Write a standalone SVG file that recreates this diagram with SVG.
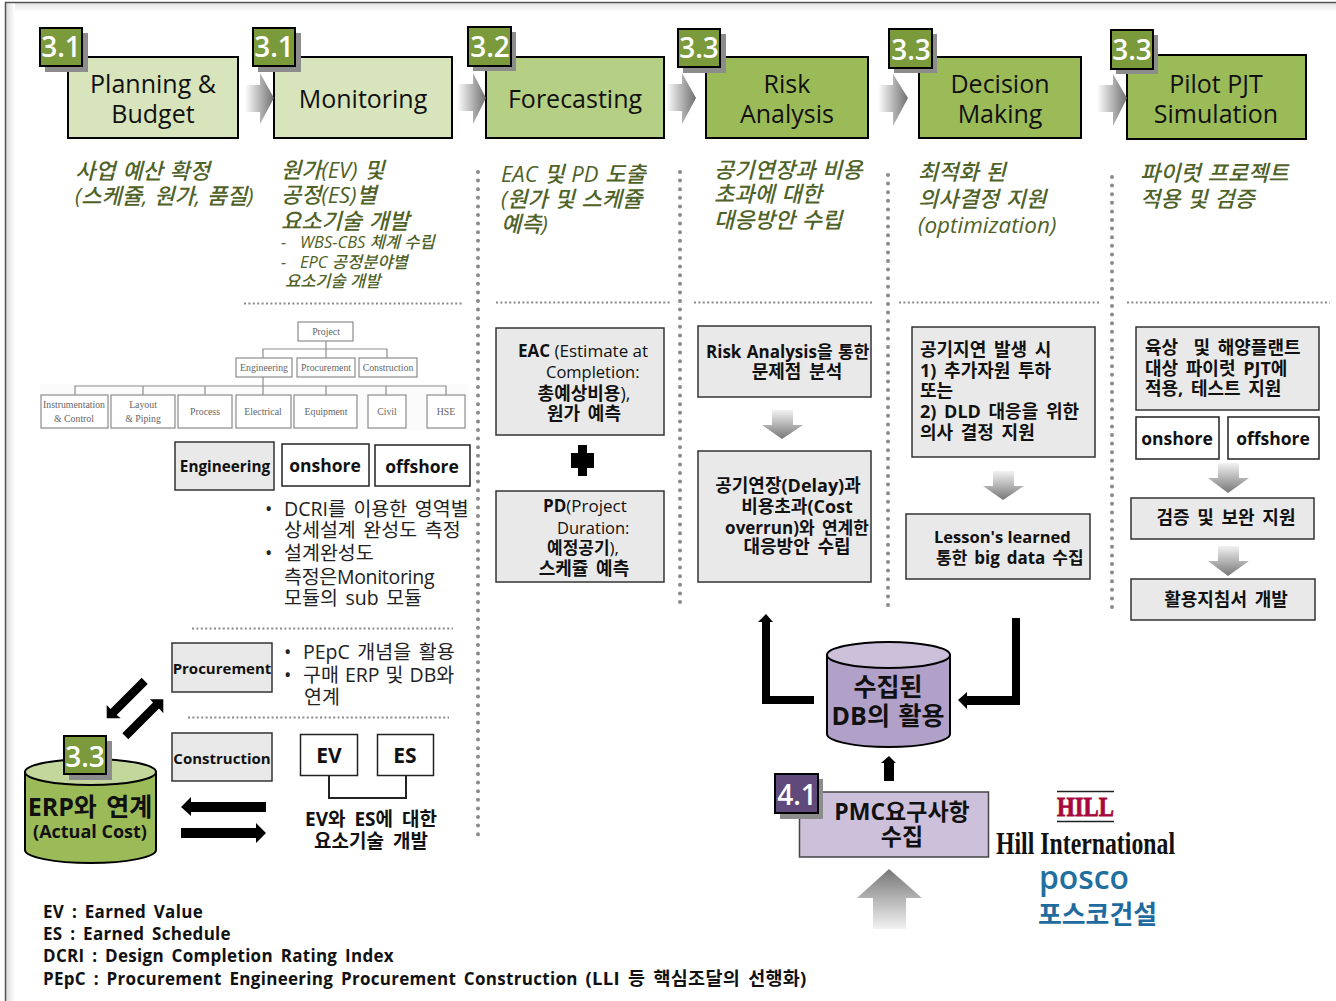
<svg xmlns="http://www.w3.org/2000/svg" width="1336" height="1001" viewBox="0 0 1336 1001">
<style>
text{font-family:"Open Sans","Noto Sans CJK KR",sans-serif;fill:#111}
.ttl{font-size:25px;text-anchor:middle}
.bdg{font-size:28px;font-weight:600;fill:#fff;text-anchor:middle}
.it{font-size:22px;font-style:italic;font-weight:500;fill:#4f6228;word-spacing:1px}
.its{font-size:16.5px;font-style:italic;font-weight:500;fill:#4f6228}
.b{font-weight:700;font-size:17px}
.k{font-weight:700;font-size:18px;word-spacing:3px;white-space:pre}
.sw{word-spacing:2.5px}
.m{text-anchor:middle}
.r{font-size:19.5px;font-weight:400;fill:#222;word-spacing:2.5px}
.n{font-size:16.5px}
.h{font-weight:700;font-size:17.5px}
.lg{font-weight:700;font-size:17px;letter-spacing:.3px;word-spacing:3px}
.st{stroke:#000;stroke-width:2}
.l1{fill:#d8e4bc}.l2{fill:#b5cf84}.l3{fill:#9bbb59}
.sh{fill:#8c8c8c}
.bg{fill:#7a9a3c;stroke:#000;stroke-width:2}
.g{fill:#e9e9e9;stroke:#333;stroke-width:1.5}
.w{fill:#fff;stroke:#222;stroke-width:1.5}
.vd{stroke:#8a8a8a;stroke-width:4;stroke-linecap:round;stroke-dasharray:0 8.6;fill:none}
.hd{stroke:#8a8a8a;stroke-width:2;stroke-dasharray:2 2.4;fill:none}
.wb{fill:#fff;stroke:#8d8d8d;stroke-width:1.2}
.wl{stroke:#8d8d8d;stroke-width:1.2;fill:none}
.wt{font-family:"Liberation Serif",serif;font-size:9.8px;fill:#666;text-anchor:middle}
</style>
<defs>
<linearGradient id="gh" x1="0" x2="1" y1="0" y2="0"><stop offset="0" stop-color="#fff"/><stop offset="1" stop-color="#6f6f6f"/></linearGradient>
<linearGradient id="gv" x1="0" x2="0" y1="0" y2="1"><stop offset="0" stop-color="#f2f2f2"/><stop offset="1" stop-color="#777"/></linearGradient>
<linearGradient id="gu" x1="0" x2="0" y1="0" y2="1"><stop offset="0" stop-color="#777"/><stop offset="1" stop-color="#f2f2f2"/></linearGradient>
<linearGradient id="fl" x1="0" x2="1" y1="0" y2="0"><stop offset="0" stop-color="#dcdcdc"/><stop offset="1" stop-color="#fff"/></linearGradient>
<linearGradient id="ft" x1="0" x2="0" y1="0" y2="1"><stop offset="0" stop-color="#e4e4e4"/><stop offset="1" stop-color="#fff"/></linearGradient>
</defs>
<rect width="1336" height="1001" fill="#fff"/>
<g id="frame">
<rect x="6" y="3" width="1330" height="9" fill="url(#ft)"/>
<rect x="6" y="3" width="9" height="998" fill="url(#fl)"/>
<path d="M5.5 1001V2.5H1336" fill="none" stroke="#555" stroke-width="1.5"/>
</g>
<g id="dividers">
<path class="vd" d="M478 172V838M680 172V606M888 175V612M1112 177V608"/>
<path class="hd" d="M244 303.500H462M496 302.500H670M694 302.500H874M899 302.500H1100M1127 302.500H1330M192 628.500H453M188 717.500H449"/>
</g>

<g id="step-planning"><rect class="l1 st" x="68" y="57" width="170" height="81"/><rect class="sh" x="45" y="33" width="43" height="39"/><rect class="bg" x="40" y="28" width="42" height="38"/><text class="bdg" x="61" y="57">3.1</text><text class="ttl" x="153" y="93">Planning &amp;</text><text class="ttl" x="153" y="123">Budget</text></g>
<g id="step-monitoring"><rect class="l1 st" x="274" y="57" width="178" height="81"/><rect class="sh" x="258" y="33" width="43" height="39"/><rect class="bg" x="253" y="28" width="42" height="38"/><text class="bdg" x="274" y="57">3.1</text><text class="ttl" x="363" y="108">Monitoring</text></g>
<g id="step-forecasting"><rect class="l2 st" x="486" y="57" width="178" height="81"/><rect class="sh" x="473" y="32" width="43" height="39"/><rect class="bg" x="468" y="27" width="43" height="39"/><text class="bdg" x="490" y="57">3.2</text><text class="ttl" x="575" y="108">Forecasting</text></g>
<g id="step-risk"><rect class="l3 st" x="706" y="57" width="162" height="81"/><rect class="sh" x="683" y="34" width="43" height="39"/><rect class="bg" x="678" y="29" width="42" height="38"/><text class="bdg" x="699" y="58">3.3</text><text class="ttl" x="787" y="93">Risk</text><text class="ttl" x="787" y="123">Analysis</text></g>
<g id="step-decision"><rect class="l3 st" x="919" y="57" width="162" height="81"/><rect class="sh" x="894" y="34" width="43" height="39"/><rect class="bg" x="889" y="29" width="43" height="39"/><text class="bdg" x="911" y="60">3.3</text><text class="ttl" x="1000" y="93">Decision</text><text class="ttl" x="1000" y="123">Making</text></g>
<g id="step-pilot"><rect class="l3 st" x="1127" y="55" width="179" height="84"/><rect class="sh" x="1116" y="35" width="42" height="39"/><rect class="bg" x="1111" y="30" width="42" height="39"/><text class="bdg" x="1132" y="60">3.3</text><text class="ttl" x="1216" y="93">Pilot PJT</text><text class="ttl" x="1216" y="123">Simulation</text></g>

<g id="desc-planning"><text class="it" x="75" y="179">사업 예산 확정</text><text class="it" x="75" y="204">(스케쥴, 원가, 품질)</text></g>
<g id="desc-monitoring"><text class="it" x="281" y="178">원가(EV) 및</text><text class="it" x="281" y="203">공정(ES)별</text><text class="it" x="281" y="229">요소기술 개발</text><text class="its" x="281" y="248">-</text><text class="its" x="300" y="248">WBS-CBS 체계 수립</text><text class="its" x="281" y="268">-</text><text class="its" x="300" y="268">EPC 공정분야별</text><text class="its" x="285" y="287">요소기술 개발</text></g>
<g id="desc-forecasting"><text class="it" x="501" y="182">EAC 및 PD 도출</text><text class="it" x="501" y="207">(원가 및 스케쥴</text><text class="it" x="501" y="232">예측)</text></g>
<g id="desc-risk"><text class="it" x="714" y="178">공기연장과 비용</text><text class="it" x="714" y="202">초과에 대한</text><text class="it" x="714" y="228">대응방안 수립</text></g>
<g id="desc-decision"><text class="it" x="918" y="180">최적화 된</text><text class="it" x="918" y="207">의사결정 지원</text><text class="it" x="918" y="233" style="font-size:22.5px">(optimization)</text></g>
<g id="desc-pilot"><text class="it" x="1140" y="181">파이럿 프로젝트</text><text class="it" x="1140" y="207">적용 및 검증</text></g>

<g id="wbs-chart">
<rect x="40" y="384" width="428" height="46" fill="#fbfbfb"/>
<path class="wl" d="M326 341V358M263 358V349H387V358M263 377V395M75 395V386H446V395M143 386V395M205 386V395M326 386V395M386 386V395"/>
<rect class="wb" x="298" y="322" width="55" height="19"/><text class="wt" x="326" y="335">Project</text>
<rect class="wb" x="236" y="358" width="56" height="19"/><text class="wt" x="264" y="371">Engineering</text>
<rect class="wb" x="297" y="358" width="58" height="19"/><text class="wt" x="326" y="371">Procurement</text>
<rect class="wb" x="359" y="358" width="58" height="19"/><text class="wt" x="388" y="371">Construction</text>
<rect class="wb" x="41" y="395" width="67" height="33"/><text class="wt" x="74" y="408">Instrumentation</text><text class="wt" x="74" y="422">&amp; Control</text>
<rect class="wb" x="111" y="395" width="64" height="33"/><text class="wt" x="143" y="408">Layout</text><text class="wt" x="143" y="422">&amp; Piping</text>
<rect class="wb" x="178" y="395" width="54" height="33"/><text class="wt" x="205" y="415">Process</text>
<rect class="wb" x="236" y="395" width="55" height="33"/><text class="wt" x="263" y="415">Electrical</text>
<rect class="wb" x="294" y="395" width="63" height="33"/><text class="wt" x="326" y="415">Equipment</text>
<rect class="wb" x="368" y="395" width="38" height="33"/><text class="wt" x="387" y="415">Civil</text>
<rect class="wb" x="427" y="395" width="38" height="33"/><text class="wt" x="446" y="415">HSE</text>
</g>

<g id="engineering"><rect class="g" x="175" y="442" width="99" height="48"/><text class="m" x="225" y="472" style="font-size:15.3px;font-weight:700">Engineering</text></g>
<g id="eng-onshore"><rect class="w" x="282" y="444" width="87" height="42"/><text class="h m" x="325" y="472">onshore</text></g>
<g id="eng-offshore"><rect class="w" x="375" y="445" width="95" height="41"/><text class="h m" x="422" y="473">offshore</text></g>
<g id="eng-notes">
<text class="r" x="265" y="516">•</text><text class="r" x="284" y="516">DCRI를 이용한 영역별</text>
<text class="r" x="284" y="537">상세설계 완성도 측정</text>
<text class="r" x="265" y="560">•</text><text class="r" x="284" y="560">설계완성도</text>
<text class="r" x="284" y="584" style="letter-spacing:-.3px">측정은Monitoring</text>
<text class="r" x="284" y="605">모듈의 sub 모듈</text>
</g>

<g id="procurement"><rect class="g" x="172" y="643" width="100" height="49"/><text class="m" x="222" y="674" style="font-size:15px;font-weight:700">Procurement</text></g>
<g id="proc-notes">
<text class="r" x="284" y="659">•</text><text class="r" x="303" y="659">PEpC 개념을 활용</text>
<text class="r" x="284" y="682">•</text><text class="r" x="303" y="682" style="word-spacing:1px">구매 ERP 및 DB와</text>
<text class="r" x="304" y="704">연계</text>
</g>
<g id="construction"><rect class="g" x="172" y="733" width="100" height="48"/><text class="m" x="222" y="764" style="font-size:15px;font-weight:700">Construction</text></g>
<g id="ev"><rect class="w" x="300.500" y="734.500" width="57" height="41"/><text class="m" x="329" y="763" style="font-size:21px;font-weight:700">EV</text></g>
<g id="es"><rect class="w" x="377.500" y="734.500" width="56" height="41"/><text class="m" x="405" y="763" style="font-size:21px;font-weight:700">ES</text></g>
<g id="ev-es-label"><text class="m" x="371" y="826" style="font-size:19px;font-weight:700;word-spacing:4px">EV와 ES에 대한</text><text class="m" x="371" y="848" style="font-size:19px;font-weight:700;word-spacing:4px">요소기술 개발</text></g>

<g id="erp-db">
<path d="M25 772V850C25 857 54 863 90.500 863S156 857 156 850V772Z" fill="#9bbb59" stroke="#000" stroke-width="2"/>
<ellipse cx="90.500" cy="772" rx="65.500" ry="13" fill="#c3d69b" stroke="#000" stroke-width="2"/>
<rect class="sh" x="69" y="741" width="43" height="39"/><rect class="bg" x="64" y="736" width="42" height="38"/><text class="bdg" x="85" y="767">3.3</text>
<text class="m" x="90" y="816" style="font-size:25px;font-weight:700;word-spacing:3px">ERP와 연계</text><text class="m" x="90" y="838" style="font-size:18px;font-weight:700">(Actual Cost)</text>
</g>

<g id="db">
<path d="M827 655V734C827 741 854 747 888.500 747S950 741 950 734V655Z" fill="#b1a0c7" stroke="#000" stroke-width="2"/>
<ellipse cx="888.500" cy="655" rx="61.500" ry="13" fill="#ccc0da" stroke="#000" stroke-width="2"/>
<text class="m" x="888" y="696" style="font-size:25px;font-weight:700">수집된</text><text class="m" x="888" y="725" style="font-size:25px;font-weight:700;word-spacing:2px">DB의 활용</text>
</g>

<g id="pmc">
<rect x="799.500" y="792" width="189" height="65" fill="#ccc0da" stroke="#444" stroke-width="1.500"/>
<rect class="sh" x="780" y="779" width="43" height="40"/><rect x="775" y="774" width="43" height="39" fill="#604a7b" stroke="#000" stroke-width="2"/><text class="bdg" x="797" y="805">4.1</text>
<text class="m" x="902" y="820" style="font-size:23px;font-weight:700">PMC요구사항</text><text class="m" x="902" y="845" style="font-size:23px;font-weight:700">수집</text>
</g>

<g id="eac"><rect class="g" x="496" y="328" width="168" height="107"/>
<text x="518" y="357" class="b">EAC <tspan font-weight="400">(Estimate at</tspan></text><text x="546" y="378" class="n">Completion:</text><text class="m" x="584" y="400" style="font-size:18px"><tspan font-weight="700">총예상비용</tspan>),</text><text class="k m" x="584" y="420">원가 예측</text></g>
<g id="pd"><rect class="g" x="496" y="491" width="168" height="91"/>
<text x="543" y="512" class="b">PD<tspan font-weight="400">(Project</tspan></text><text x="557" y="534" class="n">Duration:</text><text class="m" x="583" y="554" style="font-size:17px"><tspan font-weight="700">예정공기</tspan>),</text><text class="k m" x="584" y="575">스케쥴 예측</text></g>

<g id="risk-1"><rect class="g" x="698" y="326" width="173" height="71"/><text class="b" x="706" y="358" style="word-spacing:1px">Risk Analysis을 통한</text><text class="k m" x="797" y="378">문제점 분석</text></g>
<g id="risk-2"><rect class="g" x="698" y="451" width="173" height="131"/><text class="k m" x="788" y="492">공기연장(Delay)과</text><text class="k m" x="797" y="513">비용초과(Cost</text><text class="b m" x="797" y="534" style="word-spacing:3px">overrun)와 연계한</text><text class="k m" x="797" y="553">대응방안 수립</text></g>

<g id="decision-1"><rect class="g" x="912" y="327" width="183" height="130"/><text class="k" x="920" y="356">공기지연 발생 시</text><text class="k" x="920" y="377">1) 추가자원 투하</text><text class="k" x="920" y="397">또는</text><text class="k" x="920" y="418">2) DLD 대응을 위한</text><text class="k" x="920" y="439">의사 결정 지원</text></g>
<g id="decision-2"><rect class="g" x="906" y="514" width="184" height="65"/><text class="b" x="934" y="543" style="font-size:16.5px">Lesson's learned</text><text class="b sw" x="936" y="564">통한 big data 수집</text></g>

<g id="pilot-1"><rect class="g" x="1136" y="327" width="183" height="83"/><text class="k" x="1145" y="354">육상  및 해양플랜트</text><text class="k" x="1145" y="375">대상 파이럿 PJT에</text><text class="k" x="1145" y="395">적용, 테스트 지원</text></g>
<g id="pilot-onshore"><rect class="w" x="1136" y="417" width="83" height="42"/><text class="h m" x="1177" y="445">onshore</text></g>
<g id="pilot-offshore"><rect class="w" x="1228" y="417" width="91" height="42"/><text class="h m" x="1273" y="445">offshore</text></g>
<g id="pilot-2"><rect class="g" x="1131" y="498" width="183" height="41"/><text class="k m" x="1226" y="524">검증 및 보완 지원</text></g>
<g id="pilot-3"><rect class="g" x="1131" y="579" width="184" height="41"/><text class="k m" x="1226" y="606">활용지침서 개발</text></g>

<g id="connectors">
<g fill="url(#gh)">
<path d="M245 85H260V73L274 98L260 124V112H245Z"/>
<path d="M457 84H473V73L486 98L473 124V111H457Z"/>
<path d="M666 84H682V73L696 98L682 124V111H666Z"/>
<path d="M878 85H893V74L908 98L893 126V112H878Z"/>
<path d="M1097 85H1113V74L1127 98L1113 126V112H1097Z"/>
</g>
<g fill="url(#gv)">
<path d="M772 410H793V425H803L782 439L762 425H772Z"/>
<path d="M993 471H1014V486H1024L1003 500L983 486H993Z"/>
<path d="M1218 463H1239V478H1249L1228 493L1208 478H1218Z"/>
<path d="M1218 546H1239V561H1249L1228 576L1208 561H1218Z"/>
</g>
<path d="M873 929V898H857L889 869L922 898H906V929Z" fill="url(#gu)"/>
<g fill="#000">
<path d="M578 445H587V453H594V468H587V476H578V468H571V453H578Z"/>
<path d="M141.700 677.700L110.500 708.900L106.700 705V718.300H120.700L116.700 715L147.700 684Z"/>
<path d="M122.300 733.300L153 702.600L150 699.300H163.300V713.300L159 708.600L128.300 739.300Z"/>
<path d="M181 807L191 797V802H266V812H191V816Z"/>
<path d="M181 828H256V823L266 833L256 843V838H181Z"/>
<path d="M762 704V622H758L766 614L773 622H770V696H814V704Z"/>
<path d="M1012 618H1020V705H967V709L958 700L967 692V696H1012Z"/>
<path d="M884 781V763H881L889 756L896 763H894V781Z"/>
</g>
<path d="M329 776V798H406V776" fill="none" stroke="#222" stroke-width="2"/>
</g>

<g id="logos">
<path d="M1057 791.500H1114M1057 821.500H1114" stroke="#222" stroke-width="1.500"/>
<text x="1057" y="816" textLength="57" lengthAdjust="spacingAndGlyphs" style="font-family:'Liberation Serif',serif;font-weight:700;font-size:27px;fill:#a6093d;stroke:#a6093d;stroke-width:.8px">HILL</text>
<text x="996" y="854" textLength="179" lengthAdjust="spacingAndGlyphs" style="font-family:'Liberation Serif',serif;font-weight:700;font-size:31px;fill:#111">Hill International</text>
<text x="1039" y="889" textLength="90" lengthAdjust="spacingAndGlyphs" style="font-family:'Open Sans',sans-serif;font-weight:600;font-size:32px;fill:#1f6f9f">posco</text>
<text x="1038" y="924" textLength="119" lengthAdjust="spacingAndGlyphs" style="font-weight:700;font-size:26px;fill:#1f6a9e">포스코건설</text>
</g>

<g id="legend">
<text class="lg" x="43" y="918">EV : Earned Value</text>
<text class="lg" x="43" y="940">ES : Earned Schedule</text>
<text class="lg" x="43" y="962">DCRI : Design Completion Rating Index</text>
<text class="lg" x="43" y="985">PEpC : Procurement Engineering Procurement Construction <tspan style="font-size:18.5px">(LLI 등 핵심조달의 선행화)</tspan></text>
</g>
</svg>
